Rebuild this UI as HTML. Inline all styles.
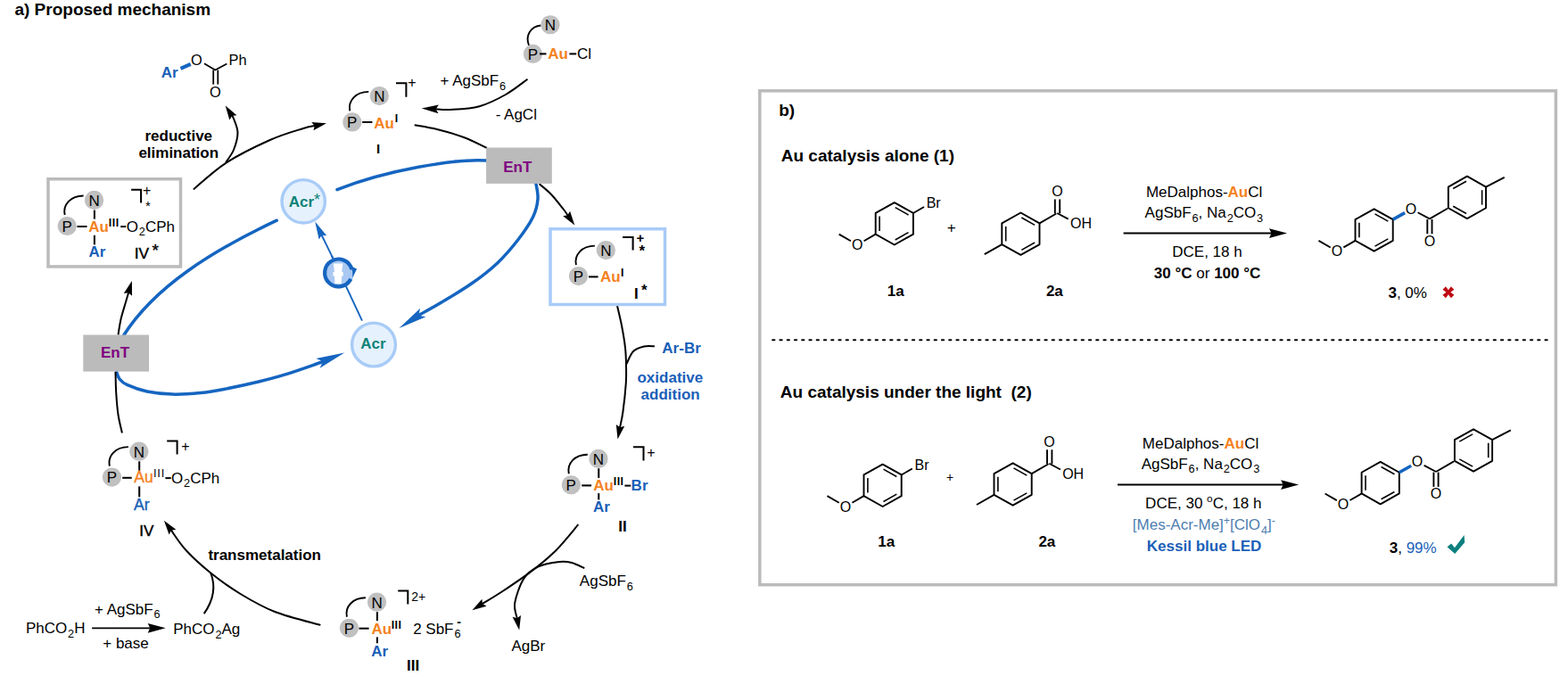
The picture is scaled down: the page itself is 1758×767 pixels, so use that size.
<!DOCTYPE html>
<html lang="en">
<head>
<meta charset="utf-8">
<title>Proposed mechanism</title>
<style>
html,body{margin:0;padding:0;background:#fff;}
body{width:1758px;height:767px;overflow:hidden;}
svg{display:block;font-family:"Liberation Sans",sans-serif;}
svg text{white-space:pre;}
</style>
</head>
<body>
<svg width="1758" height="767" viewBox="0 0 1758 767">
<rect width="1758" height="767" fill="#fff"/>
<rect x="851.85" y="101.85" width="892.5" height="553.9" fill="none" stroke="#BBBBBB" stroke-width="3.5"/>
<text x="873.25" y="130" font-size="19" font-weight="bold">b)</text>
<text x="875.73" y="181.4" font-size="19" font-weight="bold">Au catalysis alone (1)</text>
<line x1="866.2" y1="381.3" x2="1735" y2="381.3" stroke="#000" stroke-width="2.1" stroke-linecap="round" stroke-dasharray="2.2 6.05"/>
<text x="874.83" y="445.9" font-size="19" font-weight="bold" xml:space="preserve">Au catalysis under the light  (2)</text>
<path d="M1002.8 227.1L1023.9 238.95L1023.9 262.65L1002.8 274.5L981.7 262.65L981.7 238.95Z" fill="none" stroke="#000" stroke-width="1.9" stroke-linejoin="round"/>
<line x1="1003.69" y1="232.65" x2="1018.52" y2="240.97" stroke="#000" stroke-width="1.6"/>
<line x1="1018.52" y1="260.63" x2="1003.69" y2="268.95" stroke="#000" stroke-width="1.6"/>
<line x1="986.1" y1="259.05" x2="986.1" y2="242.55" stroke="#000" stroke-width="1.6"/>
<line x1="1023.9" y1="238.95" x2="1036.02" y2="231.95" stroke="#000" stroke-width="1.9"/>
<text x="1038.69" y="233.05" font-size="16">Br</text>
<line x1="981.7" y1="262.65" x2="968.62" y2="270.2" stroke="#000" stroke-width="1.9"/>
<text x="961.18" y="280.2" font-size="16" text-anchor="middle">O</text>
<line x1="953.9" y1="270.3" x2="940.65" y2="262.65" stroke="#000" stroke-width="1.9"/>
<text x="1061.84" y="260.75" font-size="17">+</text>
<text x="994.73" y="331.7" font-size="17" font-weight="bold">1a</text>
<path d="M1144.4 238.5L1165.5 250.35L1165.5 274.05L1144.4 285.9L1123.3 274.05L1123.3 250.35Z" fill="none" stroke="#000" stroke-width="1.9" stroke-linejoin="round"/>
<line x1="1145.29" y1="244.05" x2="1160.12" y2="252.37" stroke="#000" stroke-width="1.6"/>
<line x1="1160.12" y1="272.03" x2="1145.29" y2="280.35" stroke="#000" stroke-width="1.6"/>
<line x1="1127.7" y1="270.45" x2="1127.7" y2="253.95" stroke="#000" stroke-width="1.6"/>
<line x1="1123.3" y1="274.05" x2="1103.77" y2="285.16" stroke="#000" stroke-width="1.9"/>
<line x1="1165.5" y1="250.35" x2="1184.34" y2="239.47" stroke="#000" stroke-width="1.9"/>
<line x1="1182.8" y1="239.37" x2="1182.8" y2="223.47" stroke="#000" stroke-width="1.9"/>
<line x1="1188.2" y1="239.37" x2="1188.2" y2="223.47" stroke="#000" stroke-width="1.9"/>
<text x="1185.4" y="219.87" font-size="16" text-anchor="middle">O</text>
<line x1="1185.2" y1="238.97" x2="1197.72" y2="245.7" stroke="#000" stroke-width="1.9"/>
<text x="1199.95" y="256.07" font-size="16">OH</text>
<text x="1172.91" y="331.7" font-size="17" font-weight="bold">2a</text>
<line x1="1259.6" y1="261.6" x2="1428" y2="261.6" stroke="#000" stroke-width="2"/>
<path d="M1443 261.6L1423 267L1425.5 261.6L1423 256.2Z" fill="#000"/>
<text x="1350.1" y="221.3" font-size="17" text-anchor="middle"><tspan>MeDalphos-</tspan><tspan font-weight="bold" fill="#F5821F">Au</tspan><tspan font-weight="normal">Cl</tspan></text>
<text x="1349.9" y="244.3" font-size="17" text-anchor="middle"><tspan>AgSbF</tspan><tspan dy="4.3" font-size="12.7" dx="0.9">6</tspan><tspan dy="-4.3">, Na</tspan><tspan dy="4.3" font-size="12.7" dx="0.9">2</tspan><tspan dy="-4.3">CO</tspan><tspan dy="4.3" font-size="12.7" dx="0.9">3</tspan></text>
<text x="1353.5" y="287.8" font-size="17" text-anchor="middle">DCE, 18 h</text>
<text x="1353.6" y="311.8" font-size="17" text-anchor="middle"><tspan font-weight="bold">30 °C</tspan><tspan font-weight="normal"> or </tspan><tspan font-weight="bold">100 °C</tspan></text>
<path d="M1540.6 234.3L1561.7 246.15L1561.7 269.85L1540.6 281.7L1519.5 269.85L1519.5 246.15Z" fill="none" stroke="#000" stroke-width="1.9" stroke-linejoin="round"/>
<line x1="1541.49" y1="239.85" x2="1556.32" y2="248.17" stroke="#000" stroke-width="1.6"/>
<line x1="1556.32" y1="267.83" x2="1541.49" y2="276.15" stroke="#000" stroke-width="1.6"/>
<line x1="1523.9" y1="266.25" x2="1523.9" y2="249.75" stroke="#000" stroke-width="1.6"/>
<line x1="1519.5" y1="269.85" x2="1506.42" y2="277.4" stroke="#000" stroke-width="1.9"/>
<text x="1498.98" y="287.4" font-size="16" text-anchor="middle">O</text>
<line x1="1491.7" y1="277.5" x2="1478.45" y2="269.85" stroke="#000" stroke-width="1.9"/>
<line x1="1561.7" y1="246.15" x2="1575.1" y2="238.65" stroke="#1565C0" stroke-width="3.6"/>
<text x="1581.9" y="239.8" font-size="16" text-anchor="middle">O</text>
<line x1="1589.56" y1="238.22" x2="1602.9" y2="245.4" stroke="#000" stroke-width="1.9"/>
<line x1="1600.3" y1="246" x2="1600.3" y2="262.3" stroke="#000" stroke-width="1.9"/>
<line x1="1605.5" y1="246" x2="1605.5" y2="262.3" stroke="#000" stroke-width="1.9"/>
<text x="1602.9" y="275.5" font-size="16" text-anchor="middle">O</text>
<path d="M1644.9 197.7L1666 209.55L1666 233.25L1644.9 245.1L1623.8 233.25L1623.8 209.55Z" fill="none" stroke="#000" stroke-width="1.9" stroke-linejoin="round"/>
<line x1="1661.6" y1="213.15" x2="1661.6" y2="229.65" stroke="#000" stroke-width="1.6"/>
<line x1="1644.01" y1="239.55" x2="1629.18" y2="231.23" stroke="#000" stroke-width="1.6"/>
<line x1="1629.18" y1="211.57" x2="1644.01" y2="203.25" stroke="#000" stroke-width="1.6"/>
<line x1="1602.9" y1="245.4" x2="1622.94" y2="233.75" stroke="#000" stroke-width="1.9"/>
<line x1="1666" y1="209.55" x2="1686.71" y2="198.81" stroke="#000" stroke-width="1.9"/>
<text x="1556.41" y="333.5" font-size="17" font-weight="bold"><tspan font-weight="bold">3</tspan><tspan font-weight="normal">, 0%</tspan></text>
<g transform="translate(1623.9 327.7) rotate(45) scale(0.91)" fill="#BE0A14"><path d="M-7.3-2.7L-1.9-1.9L-2.7-7.3L2.7-7.3L1.9-1.9L7.3-2.7L7.3 2.7L1.9 1.9L2.7 7.3L-2.7 7.3L-1.9 1.9L-7.3 2.7Z"/></g>
<path d="M989.6 520.6L1010.7 532.45L1010.7 556.15L989.6 568L968.5 556.15L968.5 532.45Z" fill="none" stroke="#000" stroke-width="1.9" stroke-linejoin="round"/>
<line x1="990.49" y1="526.15" x2="1005.32" y2="534.47" stroke="#000" stroke-width="1.6"/>
<line x1="1005.32" y1="554.13" x2="990.49" y2="562.45" stroke="#000" stroke-width="1.6"/>
<line x1="972.9" y1="552.55" x2="972.9" y2="536.05" stroke="#000" stroke-width="1.6"/>
<line x1="1010.7" y1="532.45" x2="1022.82" y2="525.45" stroke="#000" stroke-width="1.9"/>
<text x="1025.49" y="526.55" font-size="16">Br</text>
<line x1="968.5" y1="556.15" x2="955.42" y2="563.7" stroke="#000" stroke-width="1.9"/>
<text x="947.98" y="573.7" font-size="16" text-anchor="middle">O</text>
<line x1="940.7" y1="563.8" x2="927.45" y2="556.15" stroke="#000" stroke-width="1.9"/>
<text x="1061.02" y="540.46" font-size="14">+</text>
<text x="984.33" y="612.9" font-size="17" font-weight="bold">1a</text>
<path d="M1135.6 519.3L1156.7 531.15L1156.7 554.85L1135.6 566.7L1114.5 554.85L1114.5 531.15Z" fill="none" stroke="#000" stroke-width="1.9" stroke-linejoin="round"/>
<line x1="1136.49" y1="524.85" x2="1151.32" y2="533.17" stroke="#000" stroke-width="1.6"/>
<line x1="1151.32" y1="552.83" x2="1136.49" y2="561.15" stroke="#000" stroke-width="1.6"/>
<line x1="1118.9" y1="551.25" x2="1118.9" y2="534.75" stroke="#000" stroke-width="1.6"/>
<line x1="1114.5" y1="554.85" x2="1094.97" y2="565.96" stroke="#000" stroke-width="1.9"/>
<line x1="1156.7" y1="531.15" x2="1175.54" y2="520.27" stroke="#000" stroke-width="1.9"/>
<line x1="1174" y1="520.17" x2="1174" y2="504.27" stroke="#000" stroke-width="1.9"/>
<line x1="1179.4" y1="520.17" x2="1179.4" y2="504.27" stroke="#000" stroke-width="1.9"/>
<text x="1176.6" y="500.67" font-size="16" text-anchor="middle">O</text>
<line x1="1176.4" y1="519.77" x2="1188.92" y2="526.5" stroke="#000" stroke-width="1.9"/>
<text x="1191.15" y="536.87" font-size="16">OH</text>
<text x="1164.41" y="612.9" font-size="17" font-weight="bold">2a</text>
<line x1="1253" y1="543.6" x2="1441" y2="543.6" stroke="#000" stroke-width="2"/>
<path d="M1456.1 543.6L1436.1 549L1438.6 543.6L1436.1 538.2Z" fill="#000"/>
<text x="1346" y="503.3" font-size="17" text-anchor="middle"><tspan>MeDalphos-</tspan><tspan font-weight="bold" fill="#F5821F">Au</tspan><tspan font-weight="normal">Cl</tspan></text>
<text x="1346" y="525.7" font-size="17" text-anchor="middle"><tspan>AgSbF</tspan><tspan dy="4.3" font-size="12.7" dx="0.9">6</tspan><tspan dy="-4.3">, Na</tspan><tspan dy="4.3" font-size="12.7" dx="0.9">2</tspan><tspan dy="-4.3">CO</tspan><tspan dy="4.3" font-size="12.7" dx="0.9">3</tspan></text>
<text x="1349.3" y="569.8" font-size="17" text-anchor="middle"><tspan>DCE, 30 </tspan><tspan dy="-7" font-size="11.8">o</tspan><tspan dy="7">C, 18 h</tspan></text>
<text x="1349.9" y="594.4" font-size="17" fill="#4F7DAE" text-anchor="middle"><tspan>[Mes-Acr-Me]</tspan><tspan dy="-6.5" font-size="12.4">+</tspan><tspan dy="6.5">[ClO</tspan><tspan dy="4.3" font-size="12.7" dx="0.9">4</tspan><tspan dy="-4.3">]</tspan><tspan dy="-6.5" font-size="12.4">-</tspan></text>
<text x="1350.1" y="617.5" font-size="17" font-weight="bold" fill="#1A5FB8" text-anchor="middle">Kessil blue LED</text>
<path d="M1547.7 517.9L1568.8 529.75L1568.8 553.45L1547.7 565.3L1526.6 553.45L1526.6 529.75Z" fill="none" stroke="#000" stroke-width="1.9" stroke-linejoin="round"/>
<line x1="1548.59" y1="523.45" x2="1563.42" y2="531.77" stroke="#000" stroke-width="1.6"/>
<line x1="1563.42" y1="551.43" x2="1548.59" y2="559.75" stroke="#000" stroke-width="1.6"/>
<line x1="1531" y1="549.85" x2="1531" y2="533.35" stroke="#000" stroke-width="1.6"/>
<line x1="1526.6" y1="553.45" x2="1513.52" y2="561" stroke="#000" stroke-width="1.9"/>
<text x="1506.08" y="571" font-size="16" text-anchor="middle">O</text>
<line x1="1498.8" y1="561.1" x2="1485.55" y2="553.45" stroke="#000" stroke-width="1.9"/>
<line x1="1568.8" y1="529.75" x2="1582.2" y2="522.25" stroke="#1565C0" stroke-width="3.6"/>
<text x="1589" y="523.4" font-size="16" text-anchor="middle">O</text>
<line x1="1596.66" y1="521.82" x2="1610" y2="529" stroke="#000" stroke-width="1.9"/>
<line x1="1607.4" y1="529.6" x2="1607.4" y2="545.9" stroke="#000" stroke-width="1.9"/>
<line x1="1612.6" y1="529.6" x2="1612.6" y2="545.9" stroke="#000" stroke-width="1.9"/>
<text x="1610" y="559.1" font-size="16" text-anchor="middle">O</text>
<path d="M1652 481.3L1673.1 493.15L1673.1 516.85L1652 528.7L1630.9 516.85L1630.9 493.15Z" fill="none" stroke="#000" stroke-width="1.9" stroke-linejoin="round"/>
<line x1="1668.7" y1="496.75" x2="1668.7" y2="513.25" stroke="#000" stroke-width="1.6"/>
<line x1="1651.11" y1="523.15" x2="1636.28" y2="514.83" stroke="#000" stroke-width="1.6"/>
<line x1="1636.28" y1="495.17" x2="1651.11" y2="486.85" stroke="#000" stroke-width="1.6"/>
<line x1="1610" y1="529" x2="1630.04" y2="517.35" stroke="#000" stroke-width="1.9"/>
<line x1="1673.1" y1="493.15" x2="1693.81" y2="482.41" stroke="#000" stroke-width="1.9"/>
<text x="1557.71" y="619.5" font-size="17" font-weight="bold"><tspan font-weight="bold" fill="#000">3</tspan><tspan font-weight="normal" fill="#000">, </tspan><tspan font-weight="normal" fill="#1A5FB8">99%</tspan></text>
<path d="M1622.5 613.2L1627.2 609.6L1630.9 614.3L1641.6 599.9L1642.2 608.2L1631.2 621Z" fill="#0E7F7F"/>
<text x="16.44" y="17.4" font-size="19" font-weight="bold">a) Proposed mechanism</text>
<path d="M378 212.6C432.8 190.8 511 177.6 546 180" fill="none" stroke="#1565C0" stroke-width="3.5" stroke-linecap="round"/>
<path d="M600.8 205 C601.17 208.02 603.53 216.73 603 223.1 C602.47 229.47 601.32 235.55 597.6 243.2 C593.88 250.85 587.35 260.38 580.7 269 C574.05 277.62 566.32 286.77 557.7 294.9 C549.08 303.03 539.52 310.4 529 317.8 C518.48 325.2 504.17 333.55 494.6 339.3 C485.03 345.05 475.9 349.83 471.6 352.3 C467.3 354.77 469.29 353.82 468.83 354.12" fill="none" stroke="#1565C0" stroke-width="3.5"/>
<path d="M447.5 368.1L471.11 345.75L469.24 353.84L477.41 355.36Z" fill="#1565C0"/>
<path d="M138.4 376.5C173.2 321.1 239.8 280.3 310.3 247.2" fill="none" stroke="#1565C0" stroke-width="3.5" stroke-linecap="round"/>
<path d="M130.3 415.9 C130.92 417.42 131.92 422.37 134 425 C136.08 427.63 137.63 429.37 142.8 431.7 C147.97 434.03 156.62 437.27 165 439 C173.38 440.73 183.1 441.85 193.1 442.1 C203.1 442.35 215.13 441.48 225 440.5 C234.87 439.52 241.47 438.28 252.3 436.2 C263.13 434.12 278.72 430.72 290 428 C301.28 425.28 309.17 423.23 320 419.9 C330.83 416.57 347.91 410.48 355 408 C362.09 405.52 361.29 405.5 362.55 405.01" fill="none" stroke="#1565C0" stroke-width="3.5"/>
<path d="M386.25 395.6L358.63 412.75L362.08 405.19L354.39 402.06Z" fill="#1565C0"/>
<line x1="406" y1="359.6" x2="372" y2="287" stroke="#1565C0" stroke-width="1.9"/>
<path d="M373.3 289.6 C371.16 285.2 362.58 267.62 360.43 263.23" fill="none" stroke="#1565C0" stroke-width="1.9"/>
<path d="M353.2 248.4L366.28 264.27L360.65 263.68L357.66 268.48Z" fill="#1565C0"/>
<circle cx="379.5" cy="306" r="17.2" fill="#A9C8F2"/>
<path d="M393.34 312.75A15.4 15.4 0 1 1 394.44 302.27" fill="none" stroke="#1565C0" stroke-width="4.2"/>
<path d="M373.8 295.5h10.6l-1.2 9.5h1.5v4.5h-1.5l-0.4 8.5h-7.4l-0.4-8.5h-1.5v-4.5h1.5z" fill="#FFFFFF"/>
<path d="M393.4 298.4L400.1 301.4L395.3 311.4L395.2 304.6Z" fill="#1565C0"/>
<circle cx="340.2" cy="225.8" r="24.2" fill="#E5F1FD" stroke="#A8CBF7" stroke-width="3.4"/>
<text x="323.68" y="231.8" font-size="17" font-weight="bold" fill="#0C8276"><tspan>Acr</tspan><tspan dy="-1.8" font-size="18" font-weight="normal">*</tspan></text>
<circle cx="419" cy="386.5" r="24.4" fill="#E5F1FD" stroke="#A8CBF7" stroke-width="3.4"/>
<text x="404.33" y="391" font-size="17" font-weight="bold" fill="#0C8276">Acr</text>
<path d="M216.9 212.4 C222.95 207.47 238.9 192.03 253.2 182.8 C267.5 173.57 288.23 163.47 302.7 157 C317.17 150.53 331.58 146.66 340 144 C348.42 141.34 351.01 141.54 353.21 141.05" fill="none" stroke="#000" stroke-width="2"/>
<path d="M366 138.2L351.43 146.37L352.73 141.16L349.34 137Z" fill="#000"/>
<path d="M253.2 182 C254.67 179.67 259.78 173.53 262 168 C264.22 162.47 266.5 154.63 266.5 148.8 C266.5 142.97 263.12 136.21 262 133 C260.88 129.79 260.16 130.09 259.8 129.51" fill="none" stroke="#000" stroke-width="2"/>
<path d="M252.7 118.5L265.4 129.35L260.07 129.93L257.33 134.55Z" fill="#000"/>
<path d="M464.7 140.2 C468.92 141 480.78 142.7 490 145 C499.22 147.3 510.67 150.5 520 154 C529.33 157.5 541.67 164 546 166" fill="none" stroke="#000" stroke-width="2"/>
<path d="M591.5 88.8 C587.42 91.67 576 100.93 567 106 C558 111.07 547.83 116.37 537.5 119.2 C527.17 122.03 513.22 122.51 505 123 C496.78 123.49 490.98 122.31 488.18 122.17" fill="none" stroke="#000" stroke-width="2"/>
<path d="M472.7 121.4L491.92 117.45L488.68 122.19L491.43 127.23Z" fill="#000"/>
<path d="M604.6 206.2 C606.83 208.17 613.43 213.2 618 218 C622.57 222.8 628.87 231.04 632 235 C635.13 238.96 635.97 240.65 636.77 241.78" fill="none" stroke="#000" stroke-width="2"/>
<path d="M644.3 252.5L631.17 242.17L636.48 241.37L639.03 236.65Z" fill="#000"/>
<path d="M692 343 C692.83 346.67 695.5 357.17 697 365 C698.5 372.83 700.17 382.5 701 390 C701.83 397.5 701.87 403.4 702 410 C702.13 416.6 702.4 420.93 701.8 429.6 C701.2 438.27 699.54 453.66 698.4 462 C697.26 470.34 695.56 476.7 694.99 479.64" fill="none" stroke="#000" stroke-width="2"/>
<path d="M692.5 492.5L690.83 475.88L695.08 479.15L700.25 477.7Z" fill="#000"/>
<path d="M733.9 388.3 C731.92 388.33 725.98 387.55 722 388.5 C718.02 389.45 713.25 390.75 710 394 C706.75 397.25 703.75 405.67 702.5 408" fill="none" stroke="#000" stroke-width="2"/>
<path d="M648.4 588.1 C644.13 593.03 631.75 608.82 622.8 617.7 C613.85 626.58 604.33 634.02 594.7 641.4 C585.07 648.78 574.03 656.01 565 662 C555.97 667.99 544.58 674.79 540.5 677.35" fill="none" stroke="#000" stroke-width="2"/>
<path d="M529.4 684.3L540.41 671.74L540.93 677.08L545.51 679.87Z" fill="#000"/>
<path d="M655.3 637.2 C652.92 636.17 645.68 632.2 641 631 C636.32 629.8 633.43 629.27 627.2 630 C620.97 630.73 610.25 632.27 603.6 635.4 C596.95 638.53 591.7 642 587.3 648.8 C582.9 655.6 578.45 668.73 577.2 676.2 C575.95 683.67 579.37 690.72 579.8 693.62" fill="none" stroke="#000" stroke-width="2"/>
<path d="M582.2 706.5L574.55 691.65L579.71 693.13L583.99 689.89Z" fill="#000"/>
<path d="M359.4 700.9 C350.96 698.46 323.65 692.02 308.75 686.25 C293.85 680.48 282.08 673.54 270 666.25 C257.92 658.96 246.45 650.66 236.25 642.5 C226.05 634.34 216.22 625.33 208.8 617.3 C201.38 609.27 194.56 598.14 191.71 594.31" fill="none" stroke="#000" stroke-width="2"/>
<path d="M183.9 583.8L197.3 593.78L192.01 594.72L189.59 599.5Z" fill="#000"/>
<path d="M228.75 688.1Q245 665 236.25 642.5" fill="none" stroke="#000" stroke-width="2"/>
<path d="M136.9 485.5 C136.17 482.08 133.62 472.58 132.5 465 C131.38 457.42 130.7 448.02 130.2 440 C129.7 431.98 129.62 420.75 129.5 416.9" fill="none" stroke="#000" stroke-width="2"/>
<path d="M132.5 375.5 C133 372.58 134.15 363.92 135.5 358 C136.85 352.08 139.15 345.05 140.6 340 C142.05 334.95 143.61 329.73 144.21 327.67" fill="none" stroke="#000" stroke-width="2"/>
<path d="M147.9 315.1L148 331.8L144.07 328.15L138.79 329.1Z" fill="#000"/>
<rect x="545.1" y="165.5" width="73.7" height="40.4" fill="#BBBBBB"/>
<text x="580.3" y="192.6" font-size="17" font-weight="bold" fill="#800080" text-anchor="middle">EnT</text>
<rect x="93.3" y="375.5" width="73.7" height="41.1" fill="#BBBBBB"/>
<text x="129.05" y="401.1" font-size="17" font-weight="bold" fill="#800080" text-anchor="middle">EnT</text>
<text x="180.83" y="86.65" font-size="17" font-weight="bold" fill="#1A5FB8">Ar</text>
<line x1="202.5" y1="76.9" x2="213.75" y2="71.9" stroke="#1565C0" stroke-width="4"/>
<text x="214.12" y="72.8" font-size="16.4">O</text>
<text x="256.55" y="72.7" font-size="16.4">Ph</text>
<path d="M229 71.25L241.25 78.5L254.4 71.5" fill="none" stroke="#000" stroke-width="1.8"/>
<line x1="239.2" y1="78.5" x2="239.2" y2="94.6" stroke="#000" stroke-width="1.8"/>
<line x1="244.3" y1="78.5" x2="244.3" y2="94.6" stroke="#000" stroke-width="1.8"/>
<text x="235.12" y="109.1" font-size="16.4">O</text>
<text x="200.25" y="157.8" font-size="17" font-weight="bold" text-anchor="middle">reductive</text>
<text x="200.25" y="177.3" font-size="17" font-weight="bold" text-anchor="middle">elimination</text>
<path d="M593.1 51C588.5 40 595 29.5 606.5 28.5" fill="none" stroke="#000" stroke-width="1.9"/>
<circle cx="597.5" cy="60.4" r="10.6" fill="#C0C0C0"/>
<circle cx="617" cy="27.75" r="10.6" fill="#C0C0C0"/>
<text x="597.3" y="66.7" font-size="17" text-anchor="middle">P</text>
<text x="617" y="34.05" font-size="17" text-anchor="middle">N</text>
<line x1="605" y1="60.4" x2="612.5" y2="60.4" stroke="#000" stroke-width="2.05"/>
<text x="614.33" y="66.3" font-size="17" font-weight="bold" fill="#F5821F">Au</text>
<line x1="638.4" y1="60.4" x2="646.25" y2="60.4" stroke="#000" stroke-width="2.05"/>
<text x="646.89" y="66.3" font-size="17">Cl</text>
<text x="493.47" y="96.4" font-size="17"><tspan>+ AgSbF</tspan><tspan dy="4.3" font-size="12.7" dx="0.9">6</tspan></text>
<text x="555.64" y="133.6" font-size="17">- AgCl</text>
<path d="M392.3 124.4C389.9 112.9 398.9 102.9 413.3 102.9" fill="none" stroke="#000" stroke-width="1.9"/>
<circle cx="394.9" cy="136.9" r="10.6" fill="#C0C0C0"/>
<circle cx="425.4" cy="107.6" r="10.6" fill="#C0C0C0"/>
<text x="394.7" y="143.2" font-size="17" text-anchor="middle">P</text>
<text x="425.4" y="113.9" font-size="17" text-anchor="middle">N</text>
<line x1="406.2" y1="137" x2="417.4" y2="137" stroke="#000" stroke-width="2.05"/>
<text x="419.18" y="143.5" font-size="17" font-weight="bold" fill="#F5821F">Au</text>
<text x="442.67" y="137" font-size="12.4" font-weight="bold">I</text>
<path d="M444 93.3H455.4V108.8" fill="none" stroke="#000" stroke-width="2"/>
<text x="457.13" y="97.82" font-size="16">+</text>
<text x="421.9" y="171.7" font-size="15" font-weight="bold">I</text>
<rect x="617" y="256.75" width="128.5" height="84.7" fill="none" stroke="#A8CBF7" stroke-width="3.5"/>
<path d="M645.9 297.1C643.5 285.6 652.5 275.6 666.9 275.6" fill="none" stroke="#000" stroke-width="1.9"/>
<circle cx="648.5" cy="309.6" r="10.6" fill="#C0C0C0"/>
<circle cx="679.4" cy="280.6" r="10.6" fill="#C0C0C0"/>
<text x="648.3" y="315.9" font-size="17" text-anchor="middle">P</text>
<text x="679.4" y="286.9" font-size="17" text-anchor="middle">N</text>
<line x1="660" y1="310.4" x2="670.6" y2="310.4" stroke="#000" stroke-width="2.05"/>
<text x="673.08" y="316.3" font-size="17" font-weight="bold" fill="#F5821F">Au</text>
<text x="696.07" y="309.8" font-size="12.4" font-weight="bold">I</text>
<path d="M698.1 265.9H709.6V280.6" fill="none" stroke="#000" stroke-width="2.05"/>
<text x="713.51" y="271.89" font-size="15" font-weight="bold">+</text>
<text x="716.43" y="287.03" font-size="17" font-weight="bold">*</text>
<text x="711.07" y="334.8" font-size="16.9" font-weight="bold">I</text>
<text x="718.93" y="331.03" font-size="17" font-weight="bold">*</text>
<text x="742.33" y="396.3" font-size="17" font-weight="bold" fill="#1A5FB8">Ar-Br</text>
<text x="751.35" y="428.8" font-size="17" font-weight="bold" fill="#1A5FB8" text-anchor="middle">oxidative</text>
<text x="751.65" y="448.2" font-size="17" font-weight="bold" fill="#1A5FB8" text-anchor="middle">addition</text>
<path d="M637.8 531.25C635.4 519.75 644.4 509.75 658.8 509.75" fill="none" stroke="#000" stroke-width="1.9"/>
<circle cx="640.4" cy="543.75" r="10.6" fill="#C0C0C0"/>
<circle cx="671" cy="514.4" r="10.6" fill="#C0C0C0"/>
<text x="640.2" y="550.05" font-size="17" text-anchor="middle">P</text>
<text x="671" y="520.7" font-size="17" text-anchor="middle">N</text>
<line x1="671.25" y1="525.25" x2="671.25" y2="535.9" stroke="#000" stroke-width="2.05"/>
<line x1="652.25" y1="544.4" x2="663.1" y2="544.4" stroke="#000" stroke-width="2.05"/>
<text x="665.18" y="550" font-size="17" font-weight="bold" fill="#F5821F">Au</text>
<text x="687.77" y="544.4" font-size="12.4" font-weight="bold" letter-spacing="0.45">III</text>
<line x1="700.4" y1="544.6" x2="707.25" y2="544.6" stroke="#000" stroke-width="2"/>
<text x="707.61" y="550" font-size="17" font-weight="bold" fill="#1A5FB8">Br</text>
<line x1="671.25" y1="553.1" x2="671.25" y2="560.4" stroke="#000" stroke-width="2.05"/>
<text x="664.98" y="573.9" font-size="17" font-weight="bold" fill="#1A5FB8">Ar</text>
<path d="M710 501.25H721.5V516.6" fill="none" stroke="#000" stroke-width="2"/>
<text x="725.33" y="513.07" font-size="16">+</text>
<text x="693.36" y="595.9" font-size="17" font-weight="bold">II</text>
<text x="649.87" y="657.3" font-size="17"><tspan>AgSbF</tspan><tspan dy="4.3" font-size="12.7" dx="0.9">6</tspan></text>
<path d="M388.9 691.8C386.5 680.3 395.5 670.3 409.9 670.3" fill="none" stroke="#000" stroke-width="1.9"/>
<circle cx="391.5" cy="704.3" r="10.6" fill="#C0C0C0"/>
<circle cx="422.6" cy="675.2" r="10.6" fill="#C0C0C0"/>
<text x="391.3" y="710.6" font-size="17" text-anchor="middle">P</text>
<text x="422.6" y="681.5" font-size="17" text-anchor="middle">N</text>
<line x1="422.9" y1="686.2" x2="422.9" y2="696.2" stroke="#000" stroke-width="2.05"/>
<line x1="402.5" y1="704.7" x2="413.6" y2="704.7" stroke="#000" stroke-width="2.05"/>
<text x="416.58" y="710.6" font-size="17" font-weight="bold" fill="#F5821F">Au</text>
<text x="438.67" y="704.7" font-size="12.4" font-weight="bold" letter-spacing="0.45">III</text>
<line x1="422.9" y1="714.4" x2="422.9" y2="721.3" stroke="#000" stroke-width="2.05"/>
<text x="416.28" y="736.2" font-size="17" font-weight="bold" fill="#1A5FB8">Ar</text>
<path d="M446.2 662.4H457.3V677.4" fill="none" stroke="#000" stroke-width="2"/>
<text x="461.3" y="674.3" font-size="14">2+</text>
<text x="463.15" y="710.6" font-size="17"><tspan>2 SbF</tspan><tspan dy="4.3" font-size="12.7" dx="0.9">6</tspan><tspan dy="-12.8" font-size="14" font-weight="bold" dx="-4.2">-</tspan></text>
<text x="456.06" y="752.3" font-size="17" font-weight="bold">III</text>
<text x="573.47" y="729.8" font-size="17">AgBr</text>
<text x="28.91" y="710.2" font-size="17"><tspan>PhCO</tspan><tspan dy="4.3" font-size="12.7" dx="0.9">2</tspan><tspan dy="-4.3">H</tspan></text>
<line x1="103.1" y1="704.3" x2="170" y2="704.3" stroke="#000" stroke-width="1.8"/>
<path d="M185.7 704.3L165.7 709.7L168.2 704.3L165.7 698.9Z" fill="#000"/>
<text x="105.97" y="688.7" font-size="17"><tspan>+ AgSbF</tspan><tspan dy="4.3" font-size="12.7" dx="0.9">6</tspan></text>
<text x="115.27" y="727.2" font-size="17">+ base</text>
<text x="194.21" y="711.2" font-size="17"><tspan>PhCO</tspan><tspan dy="4.3" font-size="12.7" dx="0.9">2</tspan><tspan dy="-4.3">Ag</tspan></text>
<path d="M122.9 522.6C120.5 511.1 129.5 501.1 143.9 501.1" fill="none" stroke="#000" stroke-width="1.9"/>
<circle cx="125.5" cy="535.1" r="10.6" fill="#C0C0C0"/>
<circle cx="155.9" cy="506.2" r="10.6" fill="#C0C0C0"/>
<text x="125.3" y="541.4" font-size="17" text-anchor="middle">P</text>
<text x="155.9" y="512.5" font-size="17" text-anchor="middle">N</text>
<line x1="156.2" y1="517.3" x2="156.2" y2="527.7" stroke="#000" stroke-width="2.05"/>
<line x1="137.2" y1="535.8" x2="147.7" y2="535.8" stroke="#000" stroke-width="2.05"/>
<text x="150.37" y="541.3" font-size="17.6" fill="#F5821F" stroke="#F5821F" stroke-width="0.4">Au</text>
<text x="171.92" y="535.2" font-size="12.8" letter-spacing="0.9">III</text>
<line x1="185.4" y1="536.1" x2="191.7" y2="536.1" stroke="#000" stroke-width="2"/>
<text x="191.99" y="541.8" font-size="17"><tspan>O</tspan><tspan dy="4.3" font-size="12.7" dx="0.9">2</tspan><tspan dy="-4.3">CPh</tspan></text>
<line x1="156.2" y1="545.4" x2="156.2" y2="557.3" stroke="#000" stroke-width="2.05"/>
<text x="149.97" y="571.9" font-size="17.6" fill="#1A5FB8" stroke="#1A5FB8" stroke-width="0.4">Ar</text>
<path d="M187.2 494.4H198.6V509.6" fill="none" stroke="#000" stroke-width="2"/>
<text x="203.23" y="505.92" font-size="16">+</text>
<text x="156.23" y="601.2" font-size="17" stroke="#000" stroke-width="0.45">IV</text>
<text x="233.39" y="628.4" font-size="17" font-weight="bold">transmetalation</text>
<rect x="54" y="200.75" width="148.5" height="98.2" fill="none" stroke="#BBBBBB" stroke-width="3.5"/>
<path d="M72.65 241C70.25 229.5 79.25 219.5 93.65 219.5" fill="none" stroke="#000" stroke-width="1.9"/>
<circle cx="75.25" cy="253.5" r="10.6" fill="#C0C0C0"/>
<circle cx="105.6" cy="224.4" r="10.6" fill="#C0C0C0"/>
<text x="75.05" y="259.8" font-size="17" text-anchor="middle">P</text>
<text x="105.6" y="230.7" font-size="17" text-anchor="middle">N</text>
<line x1="105.9" y1="235.6" x2="105.9" y2="245.6" stroke="#000" stroke-width="2.05"/>
<line x1="86.5" y1="254" x2="97.5" y2="254" stroke="#000" stroke-width="2.05"/>
<text x="99.33" y="259.5" font-size="17" font-weight="bold" fill="#F5821F">Au</text>
<text x="121.87" y="254.15" font-size="12.4" font-weight="bold" letter-spacing="0.45">III</text>
<line x1="135.25" y1="254.1" x2="141.25" y2="254.1" stroke="#000" stroke-width="2"/>
<text x="141.69" y="259.5" font-size="17"><tspan>O</tspan><tspan dy="4.3" font-size="12.7" dx="0.9">2</tspan><tspan dy="-4.3">CPh</tspan></text>
<line x1="105.9" y1="263.75" x2="105.9" y2="274.4" stroke="#000" stroke-width="2.05"/>
<text x="99.58" y="288.4" font-size="17" font-weight="bold" fill="#1A5FB8">Ar</text>
<path d="M147.1 212.75H158.1V227.5" fill="none" stroke="#000" stroke-width="2.05"/>
<text x="160.08" y="218.82" font-size="16">+</text>
<text x="162.98" y="236.09" font-size="15">*</text>
<text x="150.7" y="289.6" font-size="17.3" stroke="#000" stroke-width="0.45">IV</text>
<text x="170.5" y="287.34" font-size="19" stroke="#000" stroke-width="0.4">*</text>
</svg>
</body>
</html>
